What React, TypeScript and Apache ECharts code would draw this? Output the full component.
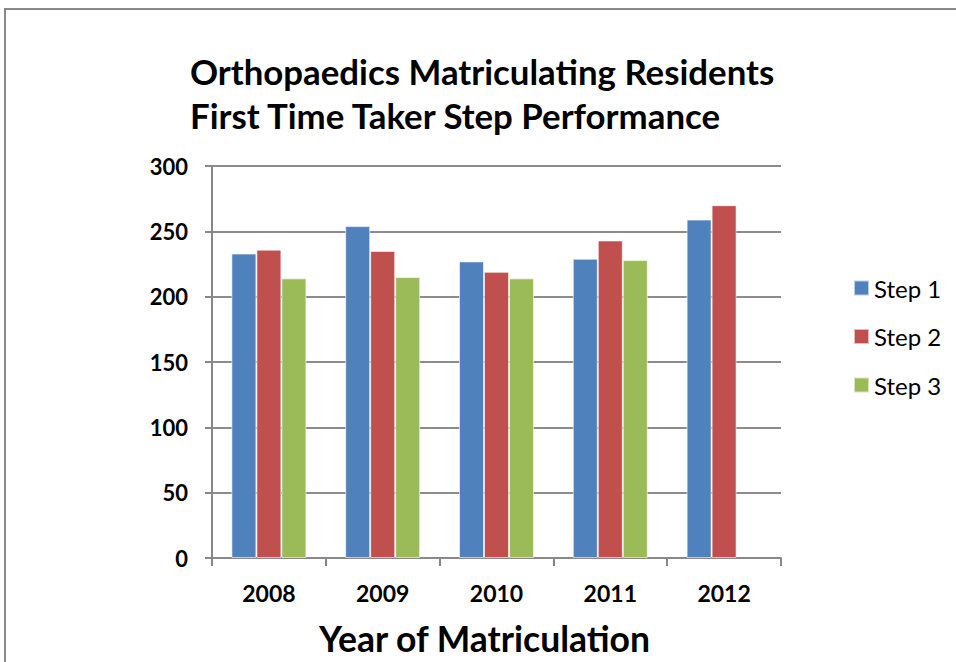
import React, { useEffect, useRef } from "react";
import * as echarts from "echarts";

const categories = ["2008", "2009", "2010", "2011", "2012"];
const step1 = [233, 254, 227, 229, 259];
const step2 = [236, 235, 219, 243, 270];
const step3: (number | null)[] = [214, 215, 214, 228, null];
const seriesNames = ["Step 1", "Step 2", "Step 3"];
const titleLines = ["Orthopaedics Matriculating Residents", "First Time Taker Step Performance"];
const xAxisName = "Year of Matriculation";

const FONT = "Lato, 'Open Sans', sans-serif";

export default function App() {
  const ref = useRef<HTMLDivElement>(null);
  useEffect(() => {
    const chart = echarts.init(ref.current!, null, { renderer: "svg" });
    const barStyle = (color: string) => ({
      color,
      borderColor: "rgba(255,255,255,0.6)",
      borderWidth: 1,
    });
    chart.setOption({
      animation: false,
      backgroundColor: "#ffffff",
      textStyle: { fontFamily: FONT },
      title: {
        text: titleLines.join("\n"),
        left: 190,
        top: 49,
        padding: 0,
        textStyle: {
          fontFamily: FONT,
          fontSize: 34.8,
          fontWeight: "bold",
          color: "#000",
          lineHeight: 44,
        },
      },
      legend: {
        orient: "vertical",
        left: 853,
        top: 276,
        padding: 0,
        icon: "rect",
        itemWidth: 15,
        itemHeight: 15,
        itemGap: 24.5,
        textStyle: { fontFamily: FONT, fontSize: 24, lineHeight: 24, color: "#000", padding: [0, 0, 0, 0] },
        data: seriesNames,
      },
      grid: { left: 212, top: 166, right: 175, bottom: 104, containLabel: false },
      xAxis: {
        type: "category",
        data: categories,
        name: xAxisName,
        nameLocation: "middle",
        nameGap: 62,
        nameTextStyle: {
          fontFamily: FONT,
          fontSize: 35.5,
          fontWeight: "bold",
          color: "#000",
          padding: [0, 24, 0, 0],
        },
        axisLine: { lineStyle: { color: "#888", width: 2 } },
        axisTick: { show: true, alignWithLabel: false, length: 8, lineStyle: { color: "#888", width: 2 } },
        axisLabel: { fontFamily: FONT, fontSize: 23, fontWeight: "bold", color: "#000", margin: 23 },
        splitLine: { show: false },
      },
      yAxis: {
        type: "value",
        min: 0,
        max: 300,
        interval: 50,
        axisLine: { show: true, lineStyle: { color: "#888", width: 2 } },
        axisTick: { show: true, length: 7, lineStyle: { color: "#888", width: 2 } },
        axisLabel: { fontFamily: FONT, fontSize: 22, fontWeight: "bold", color: "#000", margin: 24 },
        splitLine: { show: true, lineStyle: { color: "#8c8c8c", width: 2 } },
      },
      series: [
        { name: seriesNames[0], type: "bar", data: step1, barWidth: 25, barGap: "0%", itemStyle: barStyle("#4F81BD") },
        { name: seriesNames[1], type: "bar", data: step2, barWidth: 25, barGap: "0%", itemStyle: barStyle("#C0504D") },
        { name: seriesNames[2], type: "bar", data: step3, barWidth: 25, barGap: "0%", itemStyle: barStyle("#9BBB59") },
      ],
      graphic: [
        {
          type: "rect",
          shape: { x: 5, y: 9, width: 1200, height: 1000 },
          style: { fill: "none", stroke: "#898989", lineWidth: 2 },
          silent: true,
          z: 100,
        },
      ],
    });
    return () => chart.dispose();
  }, []);
  return (
    <div
      ref={ref}
      style={{ position: "fixed", left: 0, top: 0, width: 956, height: 662 }}
    />
  );
}
